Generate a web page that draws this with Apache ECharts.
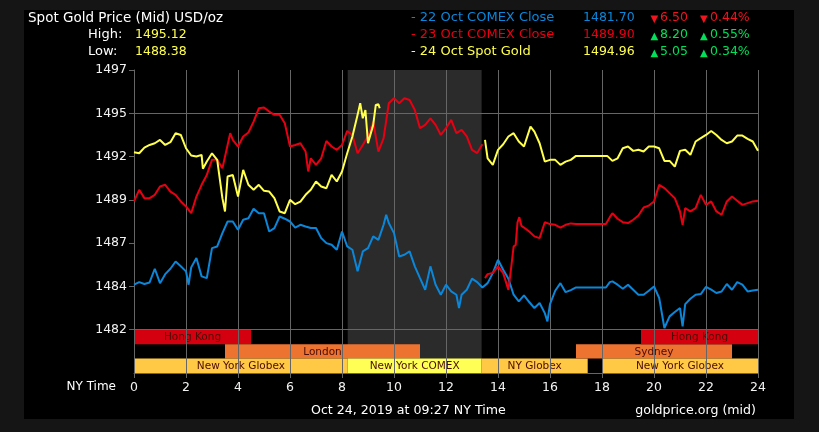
<!DOCTYPE html>
<html><head><meta charset="utf-8">
<script src="https://cdn.jsdelivr.net/npm/echarts@6/dist/echarts.min.js"></script>
<style>html,body{margin:0;padding:0;background:#151515;}#c{width:819px;height:432px;}</style>
</head><body><div id="c"></div>
<script>
// ---------- data ----------
const yTickValues = [1482, 1484.5, 1487, 1489.5, 1492, 1494.5, 1497];
const yTickLabels = ['1482', '1484', '1487', '1489', '1492', '1495', '1497'];

// 22 Oct COMEX Close (blue) : [NY hour, price]
const oct22Close = [[0,1484.6],[0.2,1484.75],[0.4,1484.64],[0.6,1484.73],[0.8,1485.52],[1.0,1484.69],[1.2,1485.21],[1.4,1485.52],[1.6,1485.94],[1.8,1485.66],[2.0,1485.37],[2.1,1484.6],[2.2,1485.6],[2.4,1486.14],[2.6,1485.08],[2.8,1484.98],[3.0,1486.71],[3.2,1486.81],[3.4,1487.58],[3.6,1488.25],[3.8,1488.25],[4.0,1487.77],[4.2,1488.35],[4.4,1488.44],[4.6,1488.98],[4.8,1488.73],[5.0,1488.73],[5.2,1487.67],[5.4,1487.87],[5.6,1488.54],[5.8,1488.41],[6.0,1488.25],[6.2,1487.9],[6.4,1488.06],[6.6,1487.96],[6.8,1487.87],[7.0,1487.87],[7.2,1487.29],[7.4,1487.0],[7.6,1486.91],[7.8,1486.62],[8.0,1487.67],[8.2,1486.81],[8.4,1486.62],[8.6,1485.37],[8.8,1486.52],[9.0,1486.71],[9.2,1487.39],[9.4,1487.19],[9.6,1488.06],[9.7,1488.64],[9.8,1488.16],[10.0,1487.58],[10.2,1486.23],[10.4,1486.33],[10.6,1486.52],[10.8,1485.66],[11.0,1484.98],[11.2,1484.31],[11.4,1485.66],[11.6,1484.6],[11.8,1484.02],[12.0,1484.6],[12.2,1484.21],[12.4,1484.02],[12.5,1483.25],[12.6,1484.02],[12.8,1484.31],[13.0,1484.95],[13.2,1484.75],[13.4,1484.44],[13.6,1484.69],[13.8,1485.27],[14.0,1486.04],[14.2,1485.46],[14.4,1484.95],[14.6,1484.02],[14.8,1483.64],[15.0,1483.98],[15.2,1483.6],[15.4,1483.25],[15.6,1483.54],[15.8,1482.96],[15.9,1482.48],[16.0,1483.48],[16.2,1484.25],[16.4,1484.69],[16.6,1484.17],[16.8,1484.29],[17.0,1484.44],[18.15,1484.44],[18.3,1484.75],[18.4,1484.79],[18.6,1484.6],[18.8,1484.37],[19.0,1484.6],[19.2,1484.31],[19.4,1484.02],[19.6,1484.02],[19.8,1484.25],[20.0,1484.5],[20.2,1483.83],[20.4,1482.1],[20.6,1482.77],[20.8,1483.02],[21.0,1483.25],[21.1,1482.19],[21.2,1483.48],[21.4,1483.79],[21.6,1484.02],[21.8,1484.06],[22.0,1484.48],[22.2,1484.31],[22.4,1484.12],[22.6,1484.21],[22.8,1484.64],[23.0,1484.31],[23.2,1484.75],[23.4,1484.6],[23.6,1484.21],[23.8,1484.27],[24.0,1484.31]];

// 23 Oct COMEX Close (red), two segments
const oct23CloseEarly = [[0,1489.41],[0.2,1490.08],[0.4,1489.6],[0.6,1489.6],[0.8,1489.79],[1.0,1490.27],[1.2,1490.37],[1.4,1489.98],[1.6,1489.79],[1.8,1489.41],[2.0,1489.12],[2.2,1488.73],[2.4,1489.69],[2.6,1490.37],[2.8,1490.94],[3.0,1491.81],[3.2,1491.81],[3.4,1491.33],[3.6,1492.67],[3.7,1493.35],[3.8,1492.96],[4.0,1492.58],[4.2,1493.16],[4.4,1493.39],[4.6,1494.02],[4.8,1494.79],[5.0,1494.83],[5.2,1494.6],[5.4,1494.41],[5.6,1494.41],[5.8,1493.92],[6.0,1492.58],[6.2,1492.67],[6.4,1492.77],[6.6,1492.29],[6.7,1491.14],[6.8,1491.9],[7.0,1491.52],[7.2,1491.9],[7.4,1492.9],[7.6,1492.58],[7.8,1492.39],[8.0,1492.67],[8.2,1493.48],[8.4,1493.25],[8.6,1492.19],[8.8,1492.67],[9.0,1493.16],[9.2,1494.02],[9.4,1492.29],[9.6,1493.06],[9.8,1495.08],[10.0,1495.37],[10.2,1495.08],[10.4,1495.37],[10.6,1495.27],[10.8,1494.69],[11.0,1493.64],[11.2,1493.83],[11.4,1494.21],[11.6,1493.83],[11.8,1493.25],[12.0,1493.64],[12.2,1494.12],[12.4,1493.35],[12.6,1493.54],[12.8,1493.16],[13.0,1492.39],[13.2,1492.2],[13.4,1492.71]];
const oct23CloseLate = [[13.5,1484.98],[13.6,1485.21],[13.8,1485.27],[14.0,1485.66],[14.2,1485.27],[14.4,1484.3],[14.5,1485.5],[14.6,1486.8],[14.68,1486.9],[14.75,1488.2],[14.82,1488.5],[14.9,1488.0],[15.0,1487.9],[15.2,1487.67],[15.4,1487.39],[15.6,1487.29],[15.8,1488.21],[16.0,1488.1],[16.2,1488.06],[16.4,1487.9],[16.6,1488.06],[16.8,1488.14],[17.0,1488.1],[18.15,1488.1],[18.3,1488.5],[18.4,1488.73],[18.6,1488.41],[18.8,1488.21],[19.0,1488.16],[19.2,1488.35],[19.4,1488.6],[19.6,1489.06],[19.8,1489.17],[20.0,1489.41],[20.2,1490.37],[20.4,1490.18],[20.6,1489.89],[20.8,1489.6],[21.0,1488.83],[21.1,1488.06],[21.2,1489.02],[21.4,1488.83],[21.6,1489.02],[21.8,1489.79],[22.0,1489.21],[22.2,1489.41],[22.4,1488.83],[22.6,1488.64],[22.8,1489.41],[23.0,1489.69],[23.2,1489.45],[23.4,1489.21],[23.6,1489.31],[23.8,1489.41],[24.0,1489.45]];

// 24 Oct Spot Gold (yellow), two segments
const oct24SpotEarly = [[0,1492.25],[0.2,1492.19],[0.4,1492.52],[0.6,1492.67],[0.8,1492.77],[1.0,1492.96],[1.2,1492.67],[1.4,1492.83],[1.6,1493.35],[1.8,1493.25],[2.0,1492.48],[2.2,1492.06],[2.4,1492.0],[2.6,1492.1],[2.65,1491.3],[2.8,1491.71],[3.0,1492.19],[3.2,1491.81],[3.4,1489.6],[3.5,1488.83],[3.6,1490.85],[3.8,1490.94],[4.0,1489.69],[4.2,1491.23],[4.4,1490.37],[4.6,1490.08],[4.8,1490.37],[5.0,1490.02],[5.2,1489.98],[5.4,1489.6],[5.6,1488.83],[5.8,1488.73],[6.0,1489.5],[6.2,1489.25],[6.4,1489.4],[6.6,1489.79],[6.8,1490.08],[7.0,1490.56],[7.2,1490.27],[7.4,1490.17],[7.6,1490.94],[7.8,1490.56],[8.0,1491.14],[8.2,1492.19],[8.4,1493.16],[8.6,1494.41],[8.7,1495.08],[8.8,1494.21],[8.9,1494.69],[9.0,1492.77],[9.2,1493.83],[9.3,1494.98],[9.4,1495.02],[9.45,1494.79]];
const oct24SpotLate = [[13.5,1492.96],[13.6,1491.9],[13.8,1491.52],[14.0,1492.39],[14.2,1492.71],[14.4,1493.16],[14.6,1493.35],[14.8,1492.87],[15.0,1492.58],[15.25,1493.73],[15.4,1493.44],[15.6,1492.77],[15.8,1491.71],[16.0,1491.81],[16.2,1491.81],[16.4,1491.52],[16.6,1491.71],[16.8,1491.81],[17.0,1492.04],[18.2,1492.04],[18.4,1491.75],[18.6,1491.9],[18.8,1492.48],[19.0,1492.58],[19.2,1492.33],[19.4,1492.39],[19.6,1492.29],[19.8,1492.58],[20.0,1492.58],[20.2,1492.48],[20.4,1491.75],[20.6,1491.75],[20.8,1491.42],[21.0,1492.33],[21.2,1492.39],[21.4,1492.1],[21.6,1492.87],[21.8,1493.06],[22.0,1493.25],[22.2,1493.48],[22.4,1493.25],[22.6,1492.96],[22.8,1492.77],[23.0,1492.87],[23.2,1493.21],[23.4,1493.21],[23.6,1493.02],[23.8,1492.87],[24.0,1492.33]];

// trading sessions
const sessionNames = ['Hong Kong', 'London', 'New York Globex', 'New York COMEX', 'NY Globex', 'Sydney', 'Hong Kong', 'New York Globex'];
const sessionStart = [0, 3.5, 0, 8.22, 13.37, 17, 19.5, 18];
const sessionEnd   = [4.5, 11, 8.22, 13.37, 17.45, 23, 24, 24];
const sessionRow   = [0, 1, 2, 2, 2, 1, 0, 2];
const sessionKind  = ['hk', 'eu', 'glx', 'cmx', 'glx', 'eu', 'hk', 'glx'];
const comexShade = [8.22, 13.37];

// header texts
const legendNames = ['- 22 Oct COMEX Close', '- 23 Oct COMEX Close', '- 24 Oct Spot Gold'];
const legendPrices = ['1481.70', '1489.90', '1494.96'];
const legendChange = ['6.50', '8.20', '5.05'];
const legendPct = ['0.44%', '0.55%', '0.34%'];
const legendUp = [false, true, true];
const highLow = ['1495.12', '1488.38'];

// ---------- styles ----------
const FONT = '"DejaVu Sans", Verdana, sans-serif';
const GRID = '#666666';
const BLUE = '#0a87da', RED = '#e60012', YELLOW = '#ffff4c', GREEN = '#00e05a', DOWNRED = '#f0141e';
const LINE_COLORS = [BLUE, RED, YELLOW];
const sessionColors = { hk: '#d4000f', eu: '#ec7330', glx: '#ffc845', cmx: '#ffff55' };

const yMin = 1479.5, yMax = 1497, yBandTop = 1482;
const rowH = (yBandTop - yMin) / 3;

const sessionData = sessionNames.map((n, i) => [sessionStart[i], sessionEnd[i], sessionRow[i], n, sessionKind[i]]);

function yLabel(v) {
  for (let i = 0; i < yTickValues.length; i++) {
    if (Math.abs(yTickValues[i] - v) < 1e-6) return yTickLabels[i];
  }
  return '';
}

function txt(x, y, text, fill, size, align) {
  return { type: 'text', x: x, y: y, z: 10, silent: true,
    style: { text: text, fill: fill, font: (size || 13) + 'px ' + FONT, align: align || 'left', verticalAlign: 'middle' } };
}

const graphics = [
  { type: 'rect', shape: { x: 24, y: 10, width: 770, height: 409 }, style: { fill: '#000' }, z: -100, silent: true },
  txt(28, 18, 'Spot Gold Price (Mid) USD/oz', '#ffffff', 13.5),
  txt(88, 35, 'High:', '#ffffff', 13),
  txt(135, 35, highLow[0], YELLOW, 12.5),
  txt(88, 52, 'Low:', '#ffffff', 13),
  txt(135, 52, highLow[1], YELLOW, 12.5),
  txt(116, 387, 'NY Time', '#ffffff', 12, 'right'),
  txt(311, 411, 'Oct 24, 2019 at 09:27 NY Time', '#ffffff', 12.6),
  txt(756, 411, 'goldprice.org (mid)', '#ffffff', 12.6, 'right')
];
const rowsY = [18, 35, 52];
for (let i = 0; i < 3; i++) {
  const c = legendUp[i] ? GREEN : DOWNRED;
  const tri = legendUp[i] ? '▲' : '▼';
  graphics.push(txt(411, rowsY[i], legendNames[i], LINE_COLORS[i], 13));
  graphics.push(txt(583, rowsY[i], legendPrices[i], LINE_COLORS[i], 12.5));
  graphics.push(txt(650.5, rowsY[i] + 1, tri, c, 10));
  graphics.push(txt(660, rowsY[i], legendChange[i], c, 12.5));
  graphics.push(txt(700, rowsY[i] + 1, tri, c, 10));
  graphics.push(txt(710, rowsY[i], legendPct[i], c, 12.5));
}

function lineSeries(name, data, color, z) {
  return { name: name, type: 'line', data: data, showSymbol: false, symbol: 'none', z: z,
    lineStyle: { width: 2, color: color }, itemStyle: { color: color }, silent: true, animation: false };
}

const chart = echarts.init(document.getElementById('c'), null, { renderer: 'canvas', width: 819, height: 432 });
chart.setOption({
  backgroundColor: '#151515',
  animation: false,
  graphic: graphics,
  grid: { left: 134, top: 70, width: 624, height: 303 },
  xAxis: {
    type: 'value', min: 0, max: 24, interval: 2,
    axisLine: { show: true, onZero: false, lineStyle: { color: GRID } },
    axisTick: { show: true, length: 5, lineStyle: { color: GRID } },
    axisLabel: { color: '#f2f2f2', fontSize: 12.5, fontFamily: FONT, margin: 8 },
    splitLine: { show: true, lineStyle: { color: GRID, width: 1 } }
  },
  yAxis: {
    type: 'value', min: yMin, max: yMax, interval: 0.5,
    axisLine: { show: true, onZero: false, lineStyle: { color: GRID } },
    axisTick: { show: true, length: 5, lineStyle: { color: GRID }, customValues: yTickValues },
    axisLabel: { color: '#f2f2f2', fontSize: 12.5, fontFamily: FONT, margin: 7, customValues: yTickValues, formatter: yLabel },
    splitLine: { show: true, lineStyle: { width: 1, color: [GRID, 'rgba(0,0,0,0)', 'rgba(0,0,0,0)', 'rgba(0,0,0,0)', 'rgba(0,0,0,0)'] } }
  },
  series: [
    {
      type: 'custom', z: -2, silent: true, data: [comexShade],
      renderItem: function (params, api) {
        const p0 = api.coord([api.value(0), yMax]);
        const p1 = api.coord([api.value(1), yMin]);
        return { type: 'rect', shape: { x: p0[0], y: p0[1], width: p1[0] - p0[0], height: p1[1] - p0[1] }, style: { fill: '#2b2b2b' } };
      }
    },
    {
      type: 'custom', z: -1, silent: true, data: sessionData,
      renderItem: function (params, api) {
        const s = api.value(0), e = api.value(1), row = api.value(2);
        const d = sessionData[params.dataIndex];
        const top = yBandTop - row * rowH, bot = top - rowH;
        const p0 = api.coord([s, top]);
        const p1 = api.coord([e, bot]);
        return { type: 'group', children: [
          { type: 'rect', shape: { x: p0[0], y: p0[1], width: p1[0] - p0[0], height: p1[1] - p0[1] }, style: { fill: sessionColors[d[4]] } },
          { type: 'text', x: (p0[0] + p1[0]) / 2, y: (p0[1] + p1[1]) / 2 + 0.5,
            style: { text: d[3], fill: '#4a0c06', font: '10.5px ' + FONT, align: 'center', verticalAlign: 'middle' } }
        ] };
      }
    },
    lineSeries('22 Oct COMEX Close', oct22Close, BLUE, 3),
    lineSeries('23 Oct COMEX Close', oct23CloseEarly, RED, 4),
    lineSeries('23 Oct COMEX Close', oct23CloseLate, RED, 4),
    lineSeries('24 Oct Spot Gold', oct24SpotEarly, YELLOW, 5),
    lineSeries('24 Oct Spot Gold', oct24SpotLate, YELLOW, 5)
  ]
});
</script></body></html>
